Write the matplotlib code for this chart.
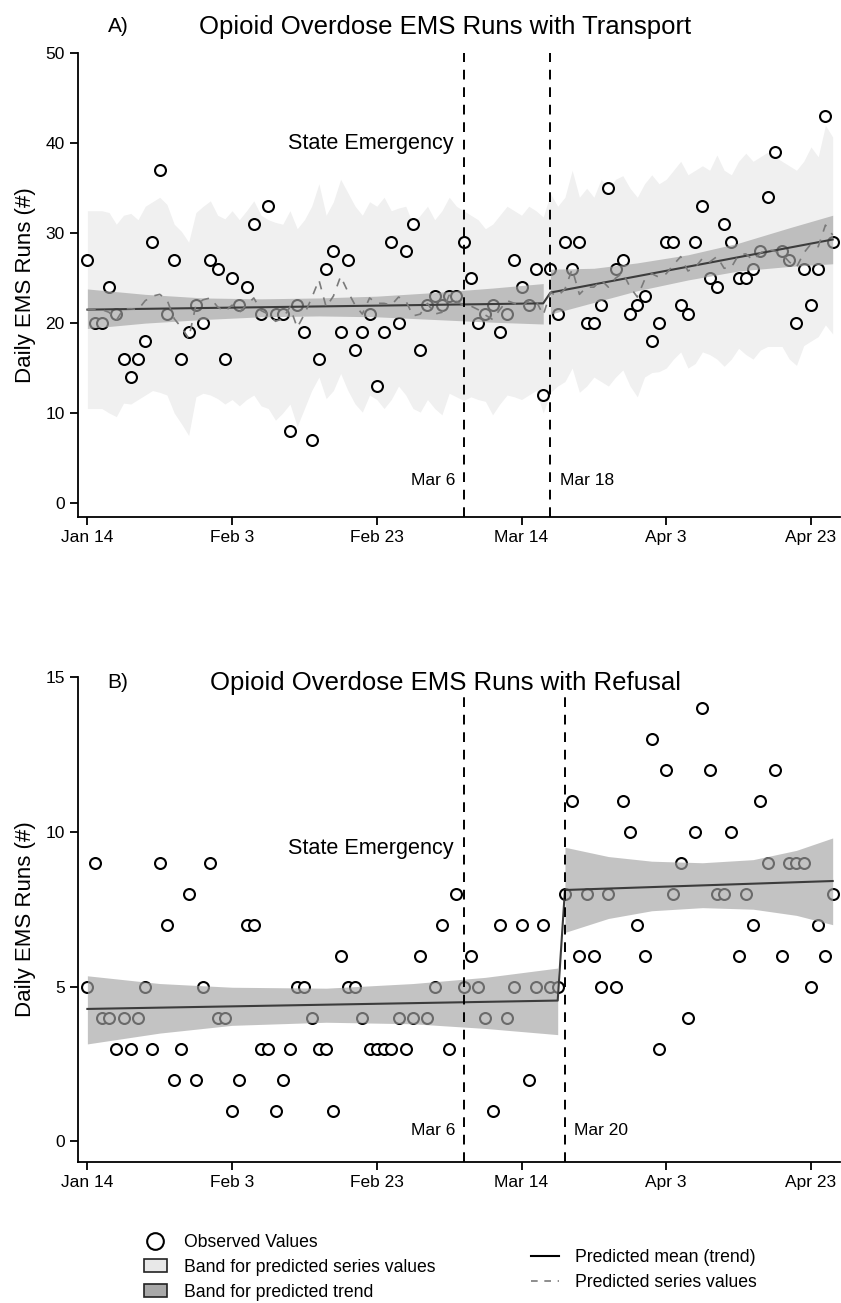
import pandas as pd
import matplotlib
matplotlib.use("Agg")
import matplotlib.pyplot as plt
from matplotlib.lines import Line2D
from matplotlib.patches import Patch

plt.rcParams['font.family'] = ['Liberation Sans', 'DejaVu Sans']

days = pd.date_range('2020-01-14', periods=104)

# ---- Panel A: runs with transport ----
transport_obs = [27, 20, 20, 24, 21, 16, 14, 16, 18, 29, 37, 21, 27, 16, 19, 22,
                 20, 27, 26, 16, 25, 22, 24, 31, 21, 33, 21, 21, 8, 22, 19, 7,
                 16, 26, 28, 19, 27, 17, 19, 21, 13, 19, 29, 20, 28, 31, 17, 22,
                 23, 22, 23, 23, 29, 25, 20, 21, 22, 19, 21, 27, 24, 22, 26, 12,
                 26, 21, 29, 26, 29, 20, 20, 22, 35, 26, 27, 21, 22, 23, 18, 20,
                 29, 29, 22, 21, 29, 33, 25, 24, 31, 29, 25, 25, 26, 28, 34, 39,
                 28, 27, 20, 26, 22, 26, 43, 29]
transport_pred = [21.5, 21.5, 21.5, 21.2, 20.3, 21.6, 21.6, 21.5, 22.5, 23.0, 23.2, 22.6,
                  20.5, 19.5, 18.3, 22.0, 22.6, 22.8, 21.8, 21.3, 22.0, 21.2, 22.0, 22.8,
                  21.4, 21.0, 20.2, 20.5, 21.8, 19.5, 21.0, 22.8, 24.8, 21.8, 23.0, 25.2,
                  23.5, 22.0, 21.0, 22.8, 22.2, 22.2, 22.0, 22.9, 22.5, 20.8, 21.0, 22.2,
                  21.0, 21.2, 23.1, 22.4, 22.0, 21.9, 21.5, 20.9, 20.4, 21.5, 22.5, 22.2,
                  21.8, 22.5, 22.5, 20.9, 23.4, 23.0, 23.8, 26.0, 23.2, 24.0, 24.0, 24.8,
                  24.0, 25.0, 25.6, 24.0, 22.9, 24.8, 25.5, 25.1, 25.5, 26.5, 27.4, 25.8,
                  26.2, 27.2, 26.8, 27.4, 26.1, 26.2, 27.6, 27.7, 27.0, 27.8, 28.2, 28.0,
                  27.7, 26.8, 26.2, 27.8, 28.8, 28.5, 30.9, 29.8]
transport_lo = [10.5, 10.5, 10.5, 10.0, 9.6, 11.1, 11.0, 11.5, 12.0, 12.5, 12.3, 12.0,
                10.0, 8.8, 7.5, 11.8, 12.2, 12.0, 11.6, 11.0, 11.5, 10.8, 11.5, 12.0,
                10.8, 10.5, 9.2, 10.0, 11.0, 8.5, 10.5, 12.5, 14.0, 11.6, 12.5, 14.4,
                12.5, 11.0, 10.1, 12.0, 11.5, 10.5, 11.5, 13.0, 12.0, 10.5, 10.1, 11.5,
                10.5, 9.8, 12.2, 11.8, 11.4, 11.8, 11.5, 11.3, 9.8, 11.0, 12.0, 11.8,
                11.5, 12.0, 12.5, 10.0, 12.3, 13.0, 13.5, 15.0, 12.3, 13.0, 14.0, 13.5,
                13.0, 14.0, 14.8, 13.0, 11.8, 14.0, 14.5, 14.6, 15.0, 16.0, 16.8, 15.0,
                15.5, 16.8, 16.5, 16.0, 15.2, 16.0, 17.2, 16.5, 16.0, 17.0, 17.4, 17.4,
                17.4, 16.0, 15.3, 17.5, 18.0, 18.5, 19.8, 18.8]
transport_hi = [32.5, 32.5, 32.5, 32.3, 31.0, 32.0, 32.2, 31.5, 33.0, 33.5, 34.0, 33.2,
                31.0, 30.2, 29.0, 32.3, 33.0, 33.6, 32.0, 31.6, 32.5, 31.5, 32.5, 33.6,
                32.0, 31.5, 31.2, 31.0, 32.5, 30.5, 31.5, 33.0, 35.5, 32.0, 33.5, 36.0,
                34.5, 33.0, 32.0, 33.5, 33.0, 34.0, 32.5, 32.8, 33.0, 31.0, 32.0, 33.0,
                31.5, 32.5, 34.0, 33.0, 32.5, 32.0, 31.5, 30.5, 31.0, 32.0, 33.0, 32.5,
                32.0, 33.0, 32.5, 31.8, 34.4, 33.0, 34.0, 37.0, 34.0, 35.0, 34.0, 36.0,
                35.0, 36.0, 36.4, 35.0, 34.0, 35.5, 36.5, 35.5, 36.0, 37.0, 38.0, 36.5,
                37.0, 37.5, 37.0, 38.7, 37.0, 36.5, 38.0, 38.9, 38.0, 38.5, 39.0, 38.5,
                38.0, 37.5, 37.0, 38.0, 39.6, 38.5, 42.0, 40.7]
transport_trend_idx = [0, 63, 64, 103]
transport_trend = [21.5, 22.2, 23.4, 29.3]
transport_ci_pre_idx = [0, 8, 16, 24, 32, 40, 48, 56, 63]
transport_ci_pre_lo = [19.4, 20.0, 20.4, 20.7, 20.8, 20.7, 20.4, 20.1, 19.9]
transport_ci_pre_hi = [23.8, 23.2, 22.8, 22.7, 22.8, 23.0, 23.4, 23.9, 24.4]
transport_ci_post_idx = [64, 70, 76, 83, 90, 97, 103]
transport_ci_post_lo = [21.0, 22.3, 23.6, 24.8, 25.8, 26.3, 26.6]
transport_ci_post_hi = [26.0, 26.1, 26.7, 27.6, 28.9, 30.6, 32.0]

# ---- Panel B: runs with refusal ----
refusal_obs = [5, 9, 4, 4, 3, 4, 3, 4, 5, 3, 9, 7, 2, 3, 8, 2, 5, 9, 4, 4, 1, 2, 7, 7,
               3, 3, 1, 2, 3, 5, 5, 4, 3, 3, 1, 6, 5, 5, 4, 3, 3, 3, 3, 4, 3, 4, 6, 4,
               5, 7, 3, 8, 5, 6, 5, 4, 1, 7, 4, 5, 7, 2, 5, 7, 5, 5, 8, 11, 6, 8, 6, 5,
               8, 5, 11, 10, 7, 6, 13, 3, 12, 8, 9, 4, 10, 14, 12, 8, 8, 10, 6, 8, 7, 11,
               9, 12, 6, 9, 9, 9, 5, 7, 6, 8]
refusal_trend_idx = [0, 65, 66, 103]
refusal_trend = [4.28, 4.55, 8.12, 8.41]
refusal_ci_pre_idx = [0, 10, 20, 33, 45, 55, 65]
refusal_ci_pre_lo = [3.15, 3.5, 3.75, 3.85, 3.8, 3.65, 3.45]
refusal_ci_pre_hi = [5.35, 5.1, 4.98, 4.95, 5.1, 5.3, 5.6]
refusal_ci_post_idx = [66, 72, 78, 85, 92, 98, 103]
refusal_ci_post_lo = [6.75, 7.2, 7.45, 7.55, 7.5, 7.3, 7.0]
refusal_ci_post_hi = [9.5, 9.2, 9.05, 9.0, 9.1, 9.4, 9.8]

tick_dates = pd.to_datetime(['2020-01-14', '2020-02-03', '2020-02-23',
                             '2020-03-14', '2020-04-03', '2020-04-23'])
tick_labels = ['Jan 14', 'Feb 3', 'Feb 23', 'Mar 14', 'Apr 3', 'Apr 23']

light_band = '#f0f0f0'
dark_band = '#a4a4a4'


def style_axis(ax, yticks):
    ax.set_xlim(days[0] - pd.Timedelta(days=1.3), days[-1] + pd.Timedelta(days=1.0))
    ax.set_xticks(tick_dates)
    ax.set_xticklabels(tick_labels)
    ax.set_yticks(yticks)
    for s in ['top', 'right']:
        ax.spines[s].set_visible(False)
    for s in ['left', 'bottom']:
        ax.spines[s].set_linewidth(1.3)
    ax.tick_params(direction='out', length=6, width=1.3, labelsize=12.5)
    ax.set_ylabel('Daily EMS Runs (#)', fontsize=16, labelpad=7)


def draw_ci(ax, idx, lo, hi):
    ax.fill_between(days[idx], lo, hi, color=dark_band, alpha=0.65, lw=0, zorder=3)


fig = plt.figure(figsize=(8.41, 13.03), dpi=100)
axA = fig.add_axes([0.0927, 0.603, 0.906, 0.356])
axB = fig.add_axes([0.0927, 0.1085, 0.906, 0.372])

# Panel A
axA.fill_between(days, transport_lo, transport_hi, color=light_band, lw=0, zorder=1)
axA.scatter(days, transport_obs, s=62, facecolors='white', edgecolors='black',
            linewidths=1.5, zorder=2)
draw_ci(axA, transport_ci_pre_idx, transport_ci_pre_lo, transport_ci_pre_hi)
draw_ci(axA, transport_ci_post_idx, transport_ci_post_lo, transport_ci_post_hi)
axA.plot(days[transport_trend_idx], transport_trend, color='#3c3c3c', lw=1.5, zorder=4)
axA.plot(days, transport_pred, color='#7a7a7a', lw=1.2, ls=(0, (5, 5)), zorder=4)
axA.set_ylim(-1.6, 50)
axA.vlines(pd.to_datetime(['2020-03-06', '2020-03-18']), -1.6, 50, color='black',
           lw=1.4, linestyles=[(0, (5, 4))], zorder=5)
style_axis(axA, [0, 10, 20, 30, 40, 50])
axA.text(pd.Timestamp('2020-03-04 14:00'), 40, 'State Emergency', ha='right',
         va='center', fontsize=15.6)
axA.text(pd.Timestamp('2020-03-04 20:00'), 2.5, 'Mar 6', ha='right', va='center',
         fontsize=12.5)
axA.text(pd.Timestamp('2020-03-19 06:00'), 2.5, 'Mar 18', ha='left', va='center',
         fontsize=12.5)

# Panel B
axB.scatter(days, refusal_obs, s=62, facecolors='white', edgecolors='black',
            linewidths=1.5, zorder=2)
draw_ci(axB, refusal_ci_pre_idx, refusal_ci_pre_lo, refusal_ci_pre_hi)
draw_ci(axB, refusal_ci_post_idx, refusal_ci_post_lo, refusal_ci_post_hi)
axB.plot(days[refusal_trend_idx], refusal_trend, color='#3c3c3c', lw=1.5, zorder=4)
axB.set_ylim(-0.65, 15)
axB.vlines(pd.to_datetime(['2020-03-06', '2020-03-20']), -0.65, 14.4, color='black',
           lw=1.4, linestyles=[(0, (5, 4))], zorder=5)
style_axis(axB, [0, 5, 10, 15])
axB.text(pd.Timestamp('2020-03-04 14:00'), 9.45, 'State Emergency', ha='right',
         va='center', fontsize=15.6)
axB.text(pd.Timestamp('2020-03-04 20:00'), 0.35, 'Mar 6', ha='right', va='center',
         fontsize=12.5)
axB.text(pd.Timestamp('2020-03-21 06:00'), 0.35, 'Mar 20', ha='left', va='center',
         fontsize=12.5)

# titles
fig.text(445 / 841, 1 - 27 / 1303, 'Opioid Overdose EMS Runs with Transport',
         ha='center', va='center', fontsize=18.5)
fig.text(118 / 841, 1 - 27 / 1303, 'A)', ha='center', va='center', fontsize=15)
fig.text(445 / 841, 1 - 683 / 1303, 'Opioid Overdose EMS Runs with Refusal',
         ha='center', va='center', fontsize=18.5)
fig.text(118 / 841, 1 - 683 / 1303, 'B)', ha='center', va='center', fontsize=15)

# legend
h1 = [Line2D([], [], ls='none', marker='o', markersize=12, markerfacecolor='white',
             markeredgecolor='black', markeredgewidth=1.5),
      Patch(facecolor='#e8e8e8', edgecolor='#222222', lw=1.2),
      Patch(facecolor='#a8a8a8', edgecolor='#222222', lw=1.2)]
l1 = ['Observed Values', 'Band for predicted series values', 'Band for predicted trend']
h2 = [Line2D([], [], color='black', lw=1.5),
      Line2D([], [], color='#7a7a7a', lw=1.2, ls=(0, (4, 4)))]
l2 = ['Predicted mean (trend)', 'Predicted series values']
fig.legend(h1, l1, loc='upper left', bbox_to_anchor=(135 / 841, 1 - 1225 / 1303),
           frameon=False, fontsize=12.7, handlelength=1.3, handletextpad=0.95,
           labelspacing=0.45, borderpad=0)
fig.legend(h2, l2, loc='upper left', bbox_to_anchor=(522 / 841, 1 - 1240 / 1303),
           frameon=False, fontsize=12.7, handlelength=1.6, handletextpad=0.9,
           labelspacing=0.45, borderpad=0)

fig.savefig('out.png', dpi=100)
